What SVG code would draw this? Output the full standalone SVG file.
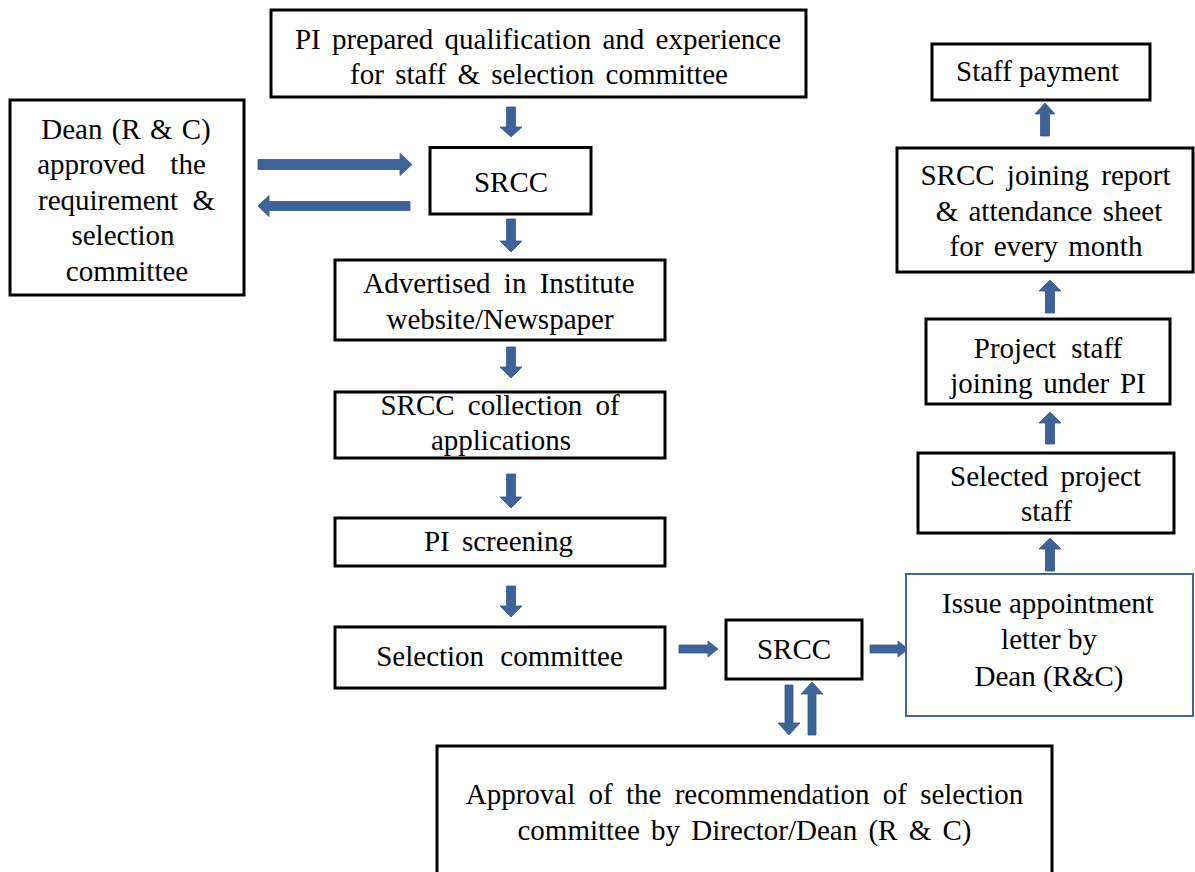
<svg xmlns="http://www.w3.org/2000/svg" width="1195" height="872" viewBox="0 0 1195 872">
<style>
.box{fill:#fff;stroke:#000;stroke-width:3}
.bbox{fill:#fff;stroke:#41659B;stroke-width:2}
text{font-family:"Liberation Serif","Times New Roman",serif;font-size:29px;fill:#000;text-anchor:middle}
.arr{fill:#3D6399;stroke:#35598C;stroke-width:0.8}
</style>
<rect width="1195" height="872" fill="#fff"/>
<g id="connectors">
<path class="arr" d="M506.5,107 L515.5,107 L515.5,127 L522,127 L511,137 L500,127 L506.5,127 Z"/>
<path class="arr" d="M506.5,219 L515.5,219 L515.5,241 L522,241 L511,252 L500,241 L506.5,241 Z"/>
<path class="arr" d="M506.5,347 L515.5,347 L515.5,367 L522,367 L511,378 L500,367 L506.5,367 Z"/>
<path class="arr" d="M506.5,474 L515.5,474 L515.5,497 L522,497 L511,508 L500,497 L506.5,497 Z"/>
<path class="arr" d="M506.5,586 L515.5,586 L515.5,606 L522,606 L511,617 L500,606 L506.5,606 Z"/>
<path class="arr" d="M258,159.5 L400,159.5 L400,153.5 L412,164.5 L400,175.5 L400,169.5 L258,169.5 Z"/>
<path class="arr" d="M410,201.5 L269,201.5 L269,195.5 L258,206 L269,216.5 L269,210.5 L410,210.5 Z"/>
<path class="arr" d="M679,645 L708,645 L708,641 L718,649 L708,657 L708,653 L679,653 Z"/>
<path class="arr" d="M870,645 L898,645 L898,641 L908,649 L898,657 L898,653 L870,653 Z"/>
<path class="arr" d="M785,685 L793,685 L793,723 L800,723 L789,735 L778,723 L785,723 Z"/>
<path class="arr" d="M808,735 L816,735 L816,694 L823,694 L812,682 L801,694 L808,694 Z"/>
<path class="arr" d="M1045.5,571 L1054.5,571 L1054.5,549 L1061,549 L1050,538 L1039,549 L1045.5,549 Z"/>
<path class="arr" d="M1045.5,444 L1054.5,444 L1054.5,423 L1061,423 L1050,412 L1039,423 L1045.5,423 Z"/>
<path class="arr" d="M1045.5,313 L1054.5,313 L1054.5,291 L1061,291 L1050,280 L1039,291 L1045.5,291 Z"/>
<path class="arr" d="M1040.5,136 L1049.5,136 L1049.5,114 L1055,114 L1045,103 L1035,114 L1040.5,114 Z"/>
</g>
<g id="n-pi-prepared">
<rect class="box" x="271" y="10" width="535" height="87"/>
<text x="538" y="49" word-spacing="4">PI prepared qualification and experience</text>
<text x="539" y="84" word-spacing="4">for staff &amp; selection committee</text>
</g>
<g id="n-dean">
<rect class="box" x="10" y="100" width="234" height="195"/>
<text x="126" y="139" word-spacing="2">Dean (R &amp; C)</text>
<text x="121.5" y="174" word-spacing="18">approved the</text>
<text x="126.5" y="210" word-spacing="7">requirement &amp;</text>
<text x="123" y="245">selection</text>
<text x="127" y="281">committee</text>
</g>
<g id="n-srcc-top">
<rect class="box" x="430" y="147.5" width="161" height="66.5"/>
<text x="511" y="192">SRCC</text>
</g>
<g id="n-advertised">
<rect class="box" x="335" y="260" width="330" height="80"/>
<text x="499" y="293" word-spacing="6">Advertised in Institute</text>
<text x="500" y="329">website/Newspaper</text>
</g>
<g id="n-collection">
<rect class="box" x="335" y="392" width="330" height="66"/>
<text x="500" y="415" word-spacing="6">SRCC collection of</text>
<text x="501" y="450">applications</text>
</g>
<g id="n-screening">
<rect class="box" x="335" y="518" width="330" height="48"/>
<text x="498.5" y="551" word-spacing="5">PI screening</text>
</g>
<g id="n-selection">
<rect class="box" x="335" y="627" width="330" height="61"/>
<text x="499.5" y="666" word-spacing="9">Selection committee</text>
</g>
<g id="n-srcc-bottom">
<rect class="box" x="726" y="620" width="136" height="59"/>
<text x="794" y="659">SRCC</text>
</g>
<g id="n-issue">
<rect class="bbox" x="906" y="574" width="287" height="142"/>
<text x="1048" y="613">Issue appointment</text>
<text x="1049" y="649">letter by</text>
<text x="1049" y="686">Dean (R&amp;C)</text>
</g>
<g id="n-approval">
<rect class="box" x="437" y="746" width="615" height="140"/>
<text x="744.5" y="804" word-spacing="6">Approval of the recommendation of selection</text>
<text x="744.5" y="840" word-spacing="4">committee by Director/Dean (R &amp; C)</text>
</g>
<g id="n-selected">
<rect class="box" x="918" y="453" width="256" height="80"/>
<text x="1045.5" y="486" word-spacing="5">Selected project</text>
<text x="1046.5" y="521">staff</text>
</g>
<g id="n-joining">
<rect class="box" x="926" y="319" width="244" height="85"/>
<text x="1048" y="358" word-spacing="8">Project staff</text>
<text x="1048" y="393" word-spacing="3.5">joining under PI</text>
</g>
<g id="n-report">
<rect class="box" x="897" y="148" width="296" height="124"/>
<text x="1045.5" y="185" word-spacing="5">SRCC joining report</text>
<text x="1049" y="221" word-spacing="3">&amp; attendance sheet</text>
<text x="1046" y="256" word-spacing="3">for every month</text>
</g>
<g id="n-payment">
<rect class="box" x="932" y="44" width="218" height="56"/>
<text x="1037.5" y="81">Staff payment</text>
</g>
</svg>
